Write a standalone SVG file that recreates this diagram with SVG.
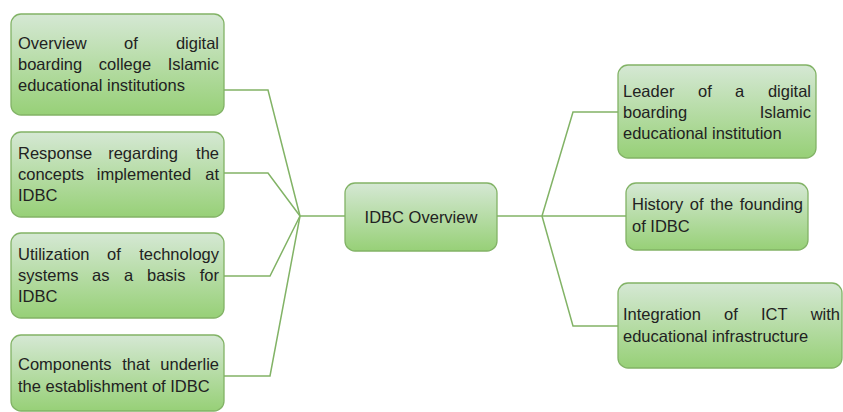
<svg xmlns="http://www.w3.org/2000/svg" width="843" height="412" viewBox="0 0 843 412">
<defs>
<linearGradient id="g" x1="0" y1="0" x2="0" y2="1">
<stop offset="0" stop-color="#d5e8d4"/>
<stop offset="1" stop-color="#97d077"/>
</linearGradient>
</defs>
<style>
.box{fill:url(#g);stroke:#82b366;stroke-width:1.3}
.t{font-family:"Liberation Sans",Arial,sans-serif;font-size:16.5px;fill:#222}
.e{text-anchor:end}
.m{text-anchor:middle}
.c{fill:none;stroke:#82b366;stroke-width:1.5}
</style>
<rect width="843" height="412" fill="#ffffff"/>
<g id="connectors">
<polyline class="c" points="224,90 268,90 300,216"/>
<polyline class="c" points="224,173 268,173 300,216"/>
<polyline class="c" points="224,276 270,276 300,216"/>
<polyline class="c" points="224,376 270,376 300,216"/>
<line class="c" x1="300" y1="216" x2="345" y2="216"/>
<line class="c" x1="497" y1="216" x2="626" y2="216"/>
<polyline class="c" points="542,216 573,112 618,112"/>
<polyline class="c" points="542,216 573,326 618,326"/>
</g>
<g id="n1">
<rect class="box" x="11" y="14" width="213" height="101" rx="10"/>
<text class="t" x="18" y="49">Overview</text>
<text class="t m" x="131" y="49">of</text>
<text class="t e" x="219" y="49">digital</text>
<text class="t" x="18" y="70">boarding</text>
<text class="t m" x="125" y="70">college</text>
<text class="t e" x="219" y="70">Islamic</text>
<text class="t" x="18" y="91">educational institutions</text>
</g>
<g id="n2">
<rect class="box" x="11" y="132" width="213" height="85" rx="10"/>
<text class="t" x="18" y="159">Response</text>
<text class="t m" x="143" y="159">regarding</text>
<text class="t e" x="219" y="159">the</text>
<text class="t" x="18" y="180">concepts</text>
<text class="t m" x="144" y="180">implemented</text>
<text class="t e" x="219" y="180">at</text>
<text class="t" x="18" y="201">IDBC</text>
</g>
<g id="n3">
<rect class="box" x="11" y="233" width="213" height="85" rx="10"/>
<text class="t" x="18" y="260">Utilization</text>
<text class="t m" x="114" y="260">of</text>
<text class="t e" x="219" y="260">technology</text>
<text class="t" x="18" y="281">systems</text>
<text class="t" x="92" y="281">as</text>
<text class="t" x="124" y="281">a</text>
<text class="t" x="147" y="281">basis</text>
<text class="t e" x="219" y="281">for</text>
<text class="t" x="18" y="302">IDBC</text>
</g>
<g id="n4">
<rect class="box" x="11" y="335" width="213" height="76" rx="10"/>
<text class="t" x="18" y="370">Components</text>
<text class="t m" x="136" y="370">that</text>
<text class="t e" x="219" y="370">underlie</text>
<text class="t" x="18" y="392">the establishment of IDBC</text>
</g>
<g id="center">
<rect class="box" x="345" y="183" width="152" height="68" rx="10"/>
<text class="t m" x="421" y="223">IDBC Overview</text>
</g>
<g id="r1">
<rect class="box" x="618" y="65" width="198" height="93" rx="10"/>
<text class="t" x="623" y="97">Leader</text>
<text class="t" x="698" y="97">of</text>
<text class="t" x="735" y="97">a</text>
<text class="t e" x="811" y="97">digital</text>
<text class="t" x="623" y="118">boarding</text>
<text class="t e" x="811" y="118">Islamic</text>
<text class="t" x="623" y="139">educational institution</text>
</g>
<g id="r2">
<rect class="box" x="626" y="183" width="182" height="67" rx="10"/>
<text class="t" x="632" y="210" textLength="171" lengthAdjust="spacing" word-spacing="2">History of the founding</text>
<text class="t" x="632" y="232">of IDBC</text>
</g>
<g id="r3">
<rect class="box" x="618" y="283" width="224" height="85" rx="10"/>
<text class="t" x="623" y="320">Integration</text>
<text class="t" x="724" y="320">of</text>
<text class="t" x="761" y="320">ICT</text>
<text class="t e" x="840" y="320">with</text>
<text class="t" x="623" y="342">educational infrastructure</text>
</g>
</svg>
